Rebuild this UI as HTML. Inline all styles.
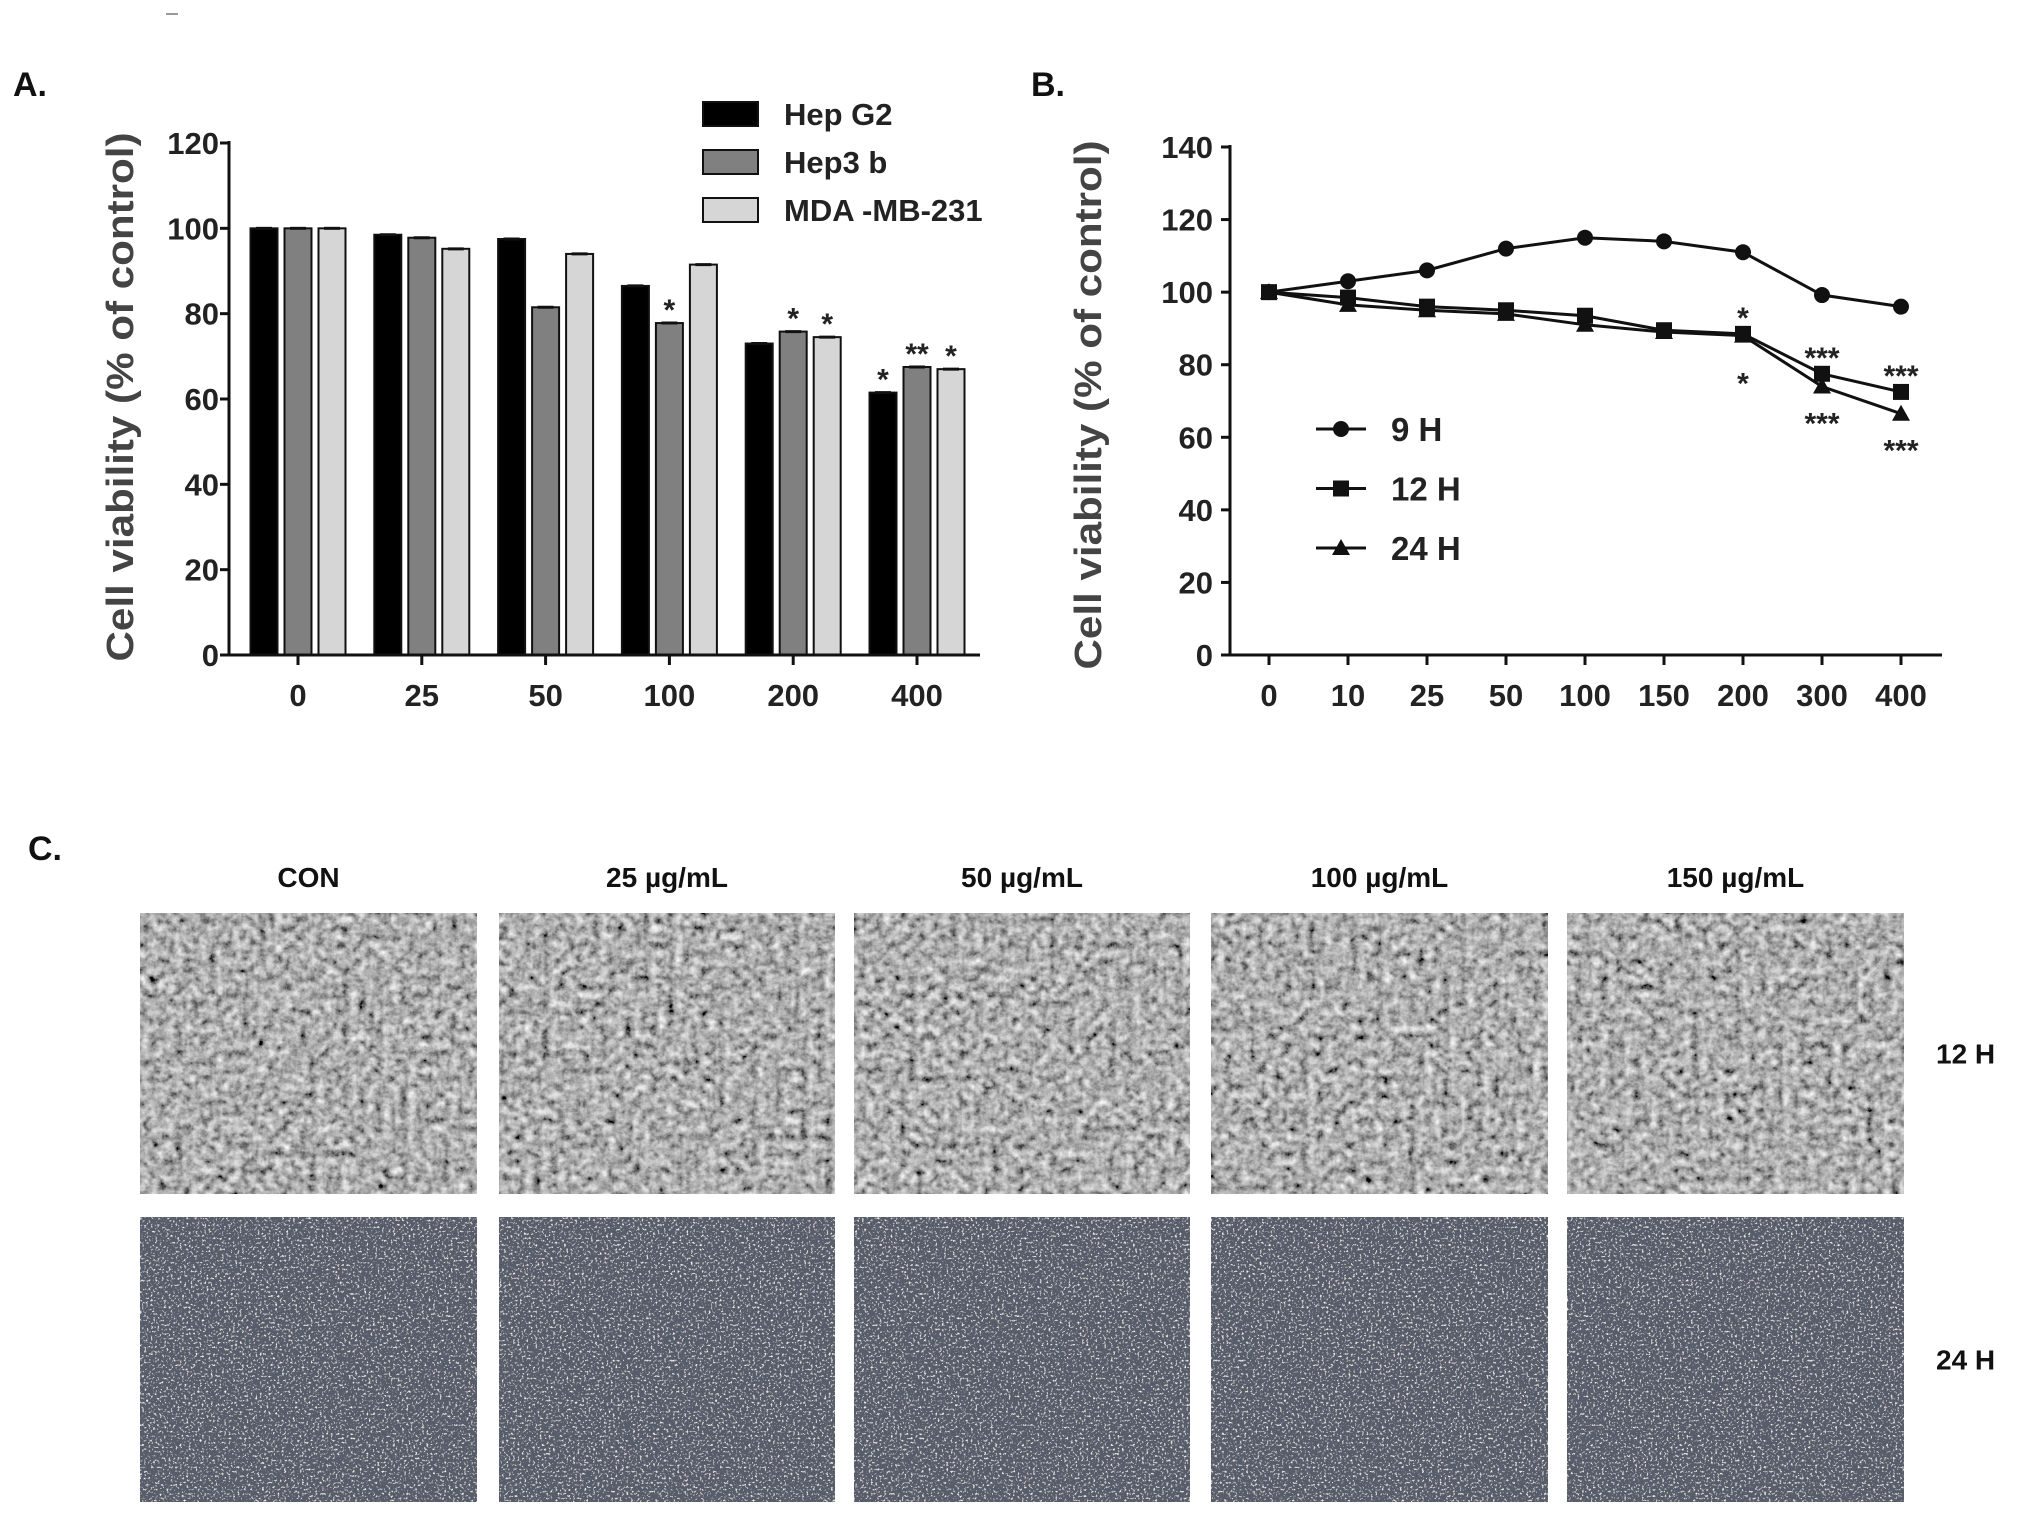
<!DOCTYPE html>
<html><head><meta charset="utf-8"><style>
html,body{margin:0;padding:0;background:#fff;}
svg{display:block;font-family:"Liberation Sans",sans-serif;font-weight:bold;}
</style></head><body>
<svg id="fig" width="2031" height="1515" viewBox="0 0 2031 1515" xmlns="http://www.w3.org/2000/svg">
<defs>
<filter id="gray12" x="0" y="0" width="100%" height="100%">
<feTurbulence type="fractalNoise" baseFrequency="0.12" numOctaves="4" seed="3" result="n"/>
<feColorMatrix type="matrix" in="n" values="0.8 0.8 0 0 -0.38  0.8 0.8 0 0 -0.38  0.8 0.8 0 0 -0.38  0 0 0 0 1"/>
</filter>
<filter id="dark24" x="0" y="0" width="100%" height="100%">
<feTurbulence type="fractalNoise" baseFrequency="0.45" numOctaves="2" seed="7" result="n"/>
<feColorMatrix type="matrix" in="n" result="sp" values="0 0 0 0 0.95  0 0 0 0 0.9  0 0 0 0 0.85  0 0 0 4.5 -2.6"/>
<feFlood flood-color="#565b6b" result="bg"/>
<feComposite in="sp" in2="bg" operator="over"/>
</filter>
</defs>
<g id="panelA"></g>
<g id="panelB"></g>
<g id="panelC"></g>
</svg>
<script>
// ---- Panel A data ----
const catsA = ["0","25","50","100","200","400"];
const hepG2 = [100, 98.5, 97.5, 86.5, 73, 61.5];
const hep3b = [100, 97.8, 81.5, 77.8, 75.8, 67.5];
const mda231 = [100, 95.2, 94, 91.5, 74.5, 67];
const seriesNamesA = ["Hep G2","Hep3 b","MDA -MB-231"];
const starsG2 = ["","","","","","*"];
const stars3b = ["","","","*","*","**"];
const starsMDA = ["","","","","*","*"];
const ticksA = [0,20,40,60,80,100,120];
// ---- Panel B data ----
const catsB = ["0","10","25","50","100","150","200","300","400"];
const h9 = [100, 103, 106, 112, 115, 114, 111, 99.2, 96];
const h12 = [100, 98.5, 96, 95, 93.5, 89.5, 88.5, 77.5, 72.5];
const h24 = [100, 96.5, 95, 94, 91, 89, 88, 74, 66.5];
const seriesNamesB = ["9 H","12 H","24 H"];
const ticksB = [0,20,40,60,80,100,120,140];
const starsAbove=["","","","","","","*","***","***"];
const starsBelow=["","","","","","","*","***","***"];
// ---- Panel C data ----
const concC = ["CON","25 µg/mL","50 µg/mL","100 µg/mL","150 µg/mL"];
const timesC = ["12 H","24 H"];

const NS="http://www.w3.org/2000/svg";
function mk(tag,attrs,parent,text){const e=document.createElementNS(NS,tag);for(const k in attrs)e.setAttribute(k,attrs[k]);if(text!==undefined)e.textContent=text;parent.appendChild(e);return e;}

// ===== Panel A =====
const A=document.getElementById('panelA');
const ayA=v=>655-(v/120)*(655-143);
const axA=i=>298+i*123.8;
let t=mk('text',{x:13,y:96,'font-size':34,fill:'#111'},A,'A.');


t=mk('text',{x:0,y:0,'font-size':38,fill:'#444','text-anchor':'middle',transform:'translate(133,397) rotate(-90)',textLength:529,lengthAdjust:'spacingAndGlyphs'},A,'Cell viability (% of control)');


ticksA.forEach(v=>{
  const l=mk('line',{x1:220,x2:229,y1:ayA(v),y2:ayA(v),stroke:'#111','stroke-width':3},A);
  
  
  const tx=mk('text',{x:219,y:ayA(v)+11,'font-size':31,'text-anchor':'end',fill:'#222'},A,String(v));
  
  
});
const seriesA=[hepG2,hep3b,mda231];
const starsAll=[starsG2,stars3b,starsMDA];
const colsA=['#000','#808080','#d6d6d6'];
seriesA.forEach((s,si)=>{
  s.forEach((v,i)=>{
    const cx=axA(i)+(si-1)*34;
    const r=mk('rect',{x:cx-13.5,y:ayA(v),width:27,height:ayA(0)-ayA(v),fill:colsA[si],stroke:'#111','stroke-width':2},A);
    
    
    const c=mk('line',{x1:cx-8,x2:cx+8,y1:ayA(v),y2:ayA(v),stroke:'#111','stroke-width':3},A);
    
    
    if(starsAll[si][i]){
      const st=mk('text',{x:cx,y:ayA(v)-3,'font-size':30,'text-anchor':'middle',fill:'#222'},A,starsAll[si][i]);
      
      
    }
  });
});
let ax=mk('line',{x1:229,x2:229,y1:141,y2:656,stroke:'#111','stroke-width':3},A);


ax=mk('line',{x1:228,x2:980,y1:655,y2:655,stroke:'#111','stroke-width':3},A);


catsA.forEach((c,i)=>{
  const l=mk('line',{x1:axA(i),x2:axA(i),y1:655,y2:665,stroke:'#111','stroke-width':3},A);
  
  
  const tx=mk('text',{x:axA(i),y:706,'font-size':31,'text-anchor':'middle',fill:'#222'},A,c);
  
  
});
seriesNamesA.forEach((n,i)=>{
  const y=114+i*48;
  const r=mk('rect',{x:703,y:y-12,width:55,height:24,fill:colsA[i],stroke:'#111','stroke-width':2},A);
  
  
  const tx=mk('text',{x:784,y:y+11,'font-size':31,fill:'#222'},A,n);
  
  
});
let dash=mk('line',{x1:166,x2:178,y1:14,y2:14,stroke:'#999','stroke-width':2},A);



// ===== Panel B =====
const B=document.getElementById('panelB');
const ayB=v=>655-(v/140)*(655-147);
const axB=i=>1269+i*79;
t=mk('text',{x:1031,y:96,'font-size':34,fill:'#111'},B,'B.');


t=mk('text',{x:0,y:0,'font-size':38,fill:'#444','text-anchor':'middle',transform:'translate(1101,405) rotate(-90)',textLength:529,lengthAdjust:'spacingAndGlyphs'},B,'Cell viability (% of control)');


ticksB.forEach(v=>{
  const l=mk('line',{x1:1221,x2:1230,y1:ayB(v),y2:ayB(v),stroke:'#111','stroke-width':3},B);
  
  
  const tx=mk('text',{x:1213,y:ayB(v)+11,'font-size':31,'text-anchor':'end',fill:'#222'},B,String(v));
  
  
});
ax=mk('line',{x1:1230,x2:1230,y1:145,y2:656,stroke:'#111','stroke-width':3},B);


ax=mk('line',{x1:1229,x2:1942,y1:655,y2:655,stroke:'#111','stroke-width':3},B);


catsB.forEach((c,i)=>{
  const l=mk('line',{x1:axB(i),x2:axB(i),y1:655,y2:665,stroke:'#111','stroke-width':3},B);
  
  
  const tx=mk('text',{x:axB(i),y:706,'font-size':31,'text-anchor':'middle',fill:'#222'},B,c);
  
  
});
function marker(kind,x,y,parent){
  let m;
  if(kind===0) m=mk('circle',{cx:x,cy:y,r:8,fill:'#111'},parent);
  else if(kind===1) m=mk('rect',{x:x-8,y:y-8,width:16,height:16,fill:'#111'},parent);
  else m=mk('polygon',{points:`${x},${y-9} ${x+9},${y+7} ${x-9},${y+7}`,fill:'#111'},parent);
  return m;
}
const seriesB=[h9,h12,h24];
seriesB.forEach((s,si)=>{
  const pl=mk('polyline',{points:s.map((v,i)=>axB(i)+','+ayB(v)).join(' '),fill:'none',stroke:'#111','stroke-width':3},B);
  
  
  s.forEach((v,i)=>{
    const m=marker(si,axB(i),ayB(v),B);
    
    
  });
});
starsAbove.forEach((s,i)=>{ if(!s)return;
  const tx=mk('text',{x:axB(i),y:ayB(h12[i])-6,'font-size':30,'text-anchor':'middle',fill:'#222'},B,s);
  
  
});
starsBelow.forEach((s,i)=>{ if(!s)return;
  const tx=mk('text',{x:axB(i),y:ayB(h24[i])+(i===6?58:47),'font-size':30,'text-anchor':'middle',fill:'#222'},B,s);
  
  
});
seriesNamesB.forEach((n,i)=>{
  const y=429+i*59.5;
  const l=mk('line',{x1:1316,x2:1366,y1:y,y2:y,stroke:'#111','stroke-width':3},B);
  
  
  const m=marker(i,1341,y,B);
  
  
  const tx=mk('text',{x:1391,y:y+12,'font-size':33,fill:'#222'},B,n);
  
  
});

// ===== Panel C =====
const C=document.getElementById('panelC');
t=mk('text',{x:28,y:860,'font-size':34,fill:'#111'},C,'C.');


const colX=[140,499,854,1211,1567];
const colW=[337,336,336,337,337];
const rowY=[913,1217], rowH=[281,285];
concC.forEach((c,i)=>{
  const tx=mk('text',{x:colX[i]+colW[i]/2,y:887,'font-size':28,'text-anchor':'middle',fill:'#111'},C,c);
  
  
  timesC.forEach((tm,r)=>{
    const rc=mk('rect',{x:colX[i],y:rowY[r],width:colW[i],height:rowH[r],filter:r===0?'url(#gray12)':'url(#dark24)',fill:'#888'},C);
    
    
  });
});
timesC.forEach((tm,r)=>{
  const tx=mk('text',{x:1936,y:rowY[r]+rowH[r]/2+10,'font-size':28,fill:'#111'},C,tm);
  
  
});
</script>
</body></html>
